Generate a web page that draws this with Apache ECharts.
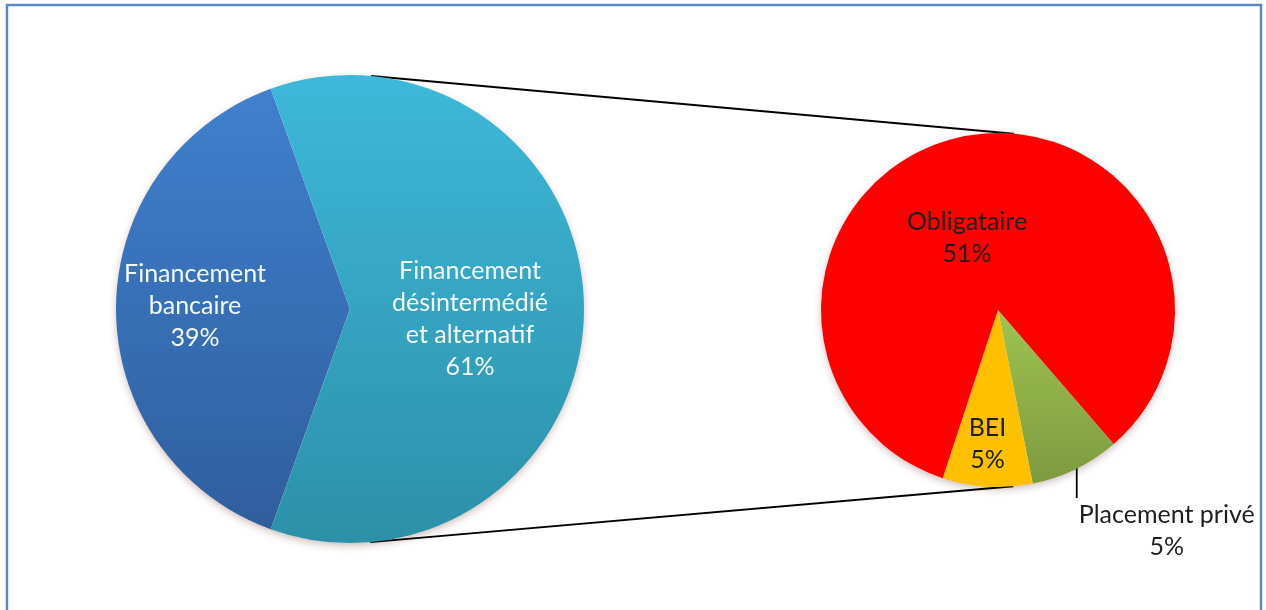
<!DOCTYPE html>
<html lang="fr">
<head>
<meta charset="utf-8">
<title>Répartition des financements</title>
<script src="https://cdn.jsdelivr.net/npm/echarts@6/dist/echarts.min.js"></script>
<style>
  html, body { margin: 0; padding: 0; background: #ffffff; }
  #chart { width: 1266px; height: 610px; }
</style>
</head>
<body>
<div id="chart"></div>
<script>
// Data: overall split, then the breakdown of the non-bank share
const mainCategories = ['Financement bancaire', 'Financement désintermédié et alternatif'];
const mainLabels = ['Financement\nbancaire', 'Financement\ndésintermédié\net alternatif'];
const mainValues = [39, 61];

const detailCategories = ['Placement privé', 'BEI', 'Obligataire'];
const detailLabels = ['Placement privé', 'BEI', 'Obligataire'];
const detailValues = [5, 5, 51];

// Layout
const MAIN_CENTER = [350, 309];
const MAIN_R = 234;
const DETAIL_CENTER = [998, 310];
const DETAIL_R = 177;
const FONT = 'Lato, "Open Sans", sans-serif';
const FONT_SIZE = 25;

const mainTotal = mainValues.reduce((a, b) => a + b, 0);
const detailTotal = detailValues.reduce((a, b) => a + b, 0);

// Bank slice faces left, the other one faces the secondary pie
const mainStart = 180 + (mainValues[0] / mainTotal) * 180;
// The two small slices sit together under the secondary pie, around 78.7° below horizontal
const smallShare = (detailValues[0] + detailValues[1]) / detailTotal * 360;
const detailStart = -78.7 + smallShare / 2;

function vGrad(top, bottom) {
  return { type: 'linear', x: 0, y: 0, x2: 0, y2: 1,
    colorStops: [{ offset: 0, color: top }, { offset: 1, color: bottom }] };
}

const mainColors = [vGrad('#4080CD', '#2F5E9E'), vGrad('#3EB8D9', '#2C90A8')];
const detailColors = [vGrad('#9EC450', '#7D9A40'), '#FFC000', '#FF0000'];

const mainShift = [[-35, -3], [0, 10]];
const detailShift = [null, [-5, 43], [-13, 18]];

// Outer common tangent between the two pies (the connector lines)
function tangentPoints() {
  const dx = DETAIL_CENTER[0] - MAIN_CENTER[0];
  const dy = DETAIL_CENTER[1] - MAIN_CENTER[1];
  const d = Math.hypot(dx, dy);
  const base = Math.atan2(dy, dx);
  const phi = Math.acos((MAIN_R - DETAIL_R) / d);
  const res = [];
  [-phi, phi].forEach(function (a) {
    const ang = base + a;
    const nx = Math.cos(ang), ny = Math.sin(ang);
    res.push([
      [MAIN_CENTER[0] + MAIN_R * nx, MAIN_CENTER[1] + MAIN_R * ny],
      [DETAIL_CENTER[0] + DETAIL_R * nx, DETAIL_CENTER[1] + DETAIL_R * ny]
    ]);
  });
  return res;
}
const connectors = tangentPoints();

const chart = echarts.init(document.getElementById('chart'), null, { renderer: 'canvas' });

chart.setOption({
  animation: false,
  backgroundColor: '#ffffff',
  graphic: [
    {
      type: 'rect', z: 0,
      shape: { x: 7, y: 5, width: 1254, height: 700 },
      style: { fill: 'none', stroke: '#5B87C6', lineWidth: 2.5 }
    },
    {
      type: 'circle', z: 0,
      shape: { cx: MAIN_CENTER[0], cy: MAIN_CENTER[1], r: MAIN_R - 1 },
      style: { fill: '#ffffff', shadowBlur: 8, shadowOffsetY: 3, shadowColor: 'rgba(90,40,30,0.35)' }
    },
    {
      type: 'circle', z: 0,
      shape: { cx: DETAIL_CENTER[0], cy: DETAIL_CENTER[1], r: DETAIL_R - 1 },
      style: { fill: '#ffffff', shadowBlur: 8, shadowOffsetY: 3, shadowColor: 'rgba(90,40,30,0.35)' }
    }
  ].concat(connectors.map(function (seg) {
    return {
      type: 'line', z: 1,
      shape: { x1: seg[0][0], y1: seg[0][1], x2: seg[1][0], y2: seg[1][1] },
      style: { stroke: '#000000', lineWidth: 2 }
    };
  })),
  series: [
    {
      type: 'pie',
      name: 'Financement',
      center: MAIN_CENTER,
      radius: MAIN_R,
      startAngle: mainStart,
      clockwise: true,
      avoidLabelOverlap: false,
      emphasis: { disabled: true },
      itemStyle: { borderWidth: 0 },
      label: {
        show: true,
        position: 'inside',
        color: '#F4F9FC',
        fontFamily: FONT,
        fontSize: FONT_SIZE,
        lineHeight: 32,
        align: 'center',
        formatter: function (p) { return mainLabels[p.dataIndex] + '\n' + p.value + '%'; }
      },
      labelLine: { show: false },
      labelLayout: function (p) {
        const s = mainShift[p.dataIndex];
        return s ? { dx: s[0], dy: s[1] } : {};
      },
      data: mainCategories.map(function (name, i) {
        return { name: name, value: mainValues[i], itemStyle: { color: mainColors[i] } };
      })
    },
    {
      type: 'pie',
      name: 'Financement désintermédié',
      center: DETAIL_CENTER,
      radius: DETAIL_R,
      startAngle: detailStart,
      clockwise: true,
      avoidLabelOverlap: false,
      emphasis: { disabled: true },
      itemStyle: { borderWidth: 0 },
      label: {
        show: true,
        color: '#1E1E1E',
        fontFamily: FONT,
        fontSize: FONT_SIZE,
        lineHeight: 32,
        align: 'center',
        formatter: function (p) { return detailLabels[p.dataIndex] + '\n' + p.value + '%'; }
      },
      labelLine: { show: false },
      labelLayout: function (p) {
        if (p.dataIndex === 0) {
          if (!p.labelLinePoints) return {};
          const s = p.labelLinePoints[0];
          return {
            x: s[0] + 91, y: s[1] + 30,
            align: 'center', verticalAlign: 'top',
            labelLinePoints: [[s[0] + 1, s[1] - 2], [s[0] + 1, s[1] + 29]]
          };
        }
        const sh = detailShift[p.dataIndex];
        return sh ? { dx: sh[0], dy: sh[1] } : {};
      },
      data: detailCategories.map(function (name, i) {
        const item = { name: name, value: detailValues[i], itemStyle: { color: detailColors[i] } };
        if (i === 0) {
          item.label = { position: 'outside' };
          item.labelLine = { show: true, length: 20, length2: 0, smooth: false,
            lineStyle: { color: '#000000', width: 1.8 } };
        } else {
          item.label = { position: 'inside' };
        }
        return item;
      })
    }
  ]
});
</script>
</body>
</html>
